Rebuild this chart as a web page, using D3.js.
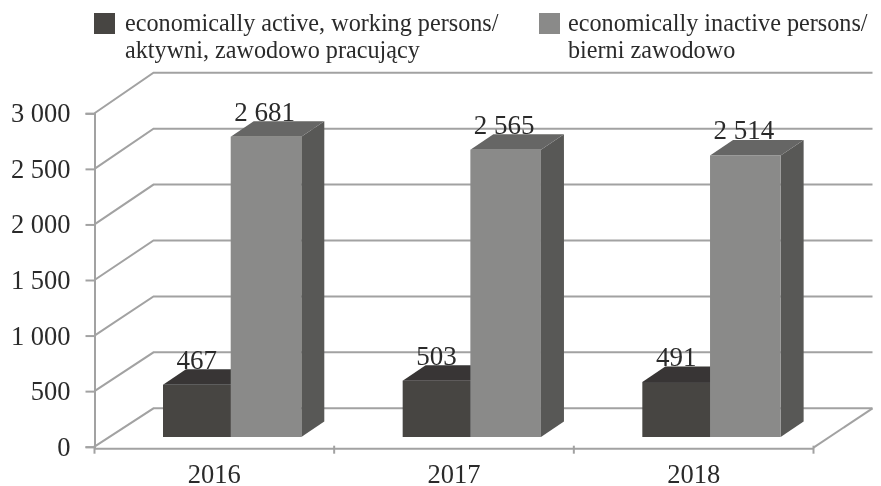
<!DOCTYPE html>
<html>
<head>
<meta charset="utf-8">
<script src="https://cdn.jsdelivr.net/npm/d3@7/dist/d3.min.js"></script>
<style>
  html, body { margin: 0; padding: 0; background: #fff; }
  text { font-family: "Liberation Serif", serif; fill: #2b2b2b; }
</style>
</head>
<body>
<div id="wrapper"></div>
<script>
const years = ["2016", "2017", "2018"];
const activeValues = [467, 503, 491];
const inactiveValues = [2681, 2565, 2514];
const yTicks = [0, 500, 1000, 1500, 2000, 2500, 3000];
const seriesNames = ["active", "inactive"];
const legendLines = [
  ["economically active, working persons/", "aktywni, zawodowo pracujący"],
  ["economically inactive persons/", "bierni zawodowo"]
];

const dimensions = { width: 881, height: 486 };
const gridColor = "#a2a2a2";
const wallDx = 59;
const barDepth = { dx: 23, dy: -15.5 };
const barWidth = 70.6;
const colors = {
  active: { front: "#464442", top: "#373634", side: "#3f3e3c" },
  inactive: { front: "#8a8a89", top: "#666665", side: "#595957" }
};

const numberFormat = d3.formatLocale({
  decimal: ".", thousands: " ", grouping: [3], currency: ["", ""]
}).format(",");

const wrapper = d3.select("#wrapper").append("svg")
  .attr("width", dimensions.width)
  .attr("height", dimensions.height)
  .style("display", "block");

wrapper.append("defs").append("filter")
  .attr("id", "soft")
  .append("feGaussianBlur").attr("stdDeviation", 0.45);

const bounds = wrapper.append("g").attr("filter", "url(#soft)");

const xScale = d3.scaleBand().domain(years).range([94.5, 813.5]);
const yScale = d3.scaleLinear().domain([0, 3000]).range([446.7, 113.3]);
// the back wall and the bars are each a little off from the front axis
const wallScale = d3.scaleLinear().domain([0, 3000]).range([408.3, 72.7]);
const barScale = d3.scaleLinear().domain([0, 3000]).range([437, 101]);
// light bars overlap the dark ones, so the step is narrower than a bar
const seriesScale = d3.scaleBand().domain(seriesNames)
  .range([68.5, 68.5 + 135.4]);

// back wall grid and side wall diagonals
const grid = bounds.append("g")
  .attr("stroke", gridColor).attr("stroke-width", 2).attr("fill", "none");
grid.selectAll("path.wall")
  .data(yTicks)
  .join("path")
  .attr("class", "wall")
  .attr("d", d => {
    const x0 = xScale.range()[0], x1 = xScale.range()[1];
    return `M${x0},${yScale(d)}L${x0 + wallDx},${wallScale(d)}H${x1 + wallDx}`;
  });
grid.append("path")
  .attr("d", () => {
    const x1 = xScale.range()[1];
    return `M${x1},${yScale(0) + 1}L${x1 + wallDx},${wallScale(0)}`;
  });

// axes
const yAxis = bounds.append("g")
  .attr("transform", `translate(${xScale.range()[0]},0)`)
  .call(d3.axisLeft(yScale).tickValues(yTicks).tickFormat(numberFormat).tickSize(9).tickPadding(15));
const xAxis = bounds.append("g")
  .attr("transform", `translate(0,${yScale(0) + 2})`)
  .call(d3.axisBottom(xScale).tickSize(0).tickPadding(15));
[yAxis, xAxis].forEach(axis => {
  axis.attr("font-family", null);
  axis.selectAll("path,line").attr("stroke", gridColor).attr("stroke-width", 2);
  axis.selectAll("text").attr("fill", "#2b2b2b").style("font-size", "26.5px");
});
xAxis.selectAll("path").attr("d", `M${xScale.range()[0]},0H${xScale.range()[1]}`);
xAxis.selectAll("line.edge")
  .data([xScale.range()[0], ...years.map(y => xScale(y) + xScale.bandwidth())])
  .join("line")
  .attr("class", "edge")
  .attr("x1", d => d).attr("x2", d => d)
  .attr("y1", -3).attr("y2", 5)
  .attr("stroke", gridColor).attr("stroke-width", 2);

// flatten values so dark bars are drawn before the light ones
const bars = seriesNames.flatMap((name, s) =>
  years.map((year, i) => ({
    name, year,
    value: (s === 0 ? activeValues : inactiveValues)[i]
  }))
);

const barX = d => xScale(d.year) + seriesScale(d.name);
const barTop = d => barScale(d.value);
const barBottom = barScale(0);

// labels sit under the bars, the light bars clip them a little
bounds.append("g").selectAll("text")
  .data(bars)
  .join("text")
  .attr("x", d => barX(d) + barWidth / 2 - 1.5)
  .attr("y", d => barTop(d) + barDepth.dy - 0.5)
  .attr("text-anchor", "middle")
  .style("font-size", "27px")
  .text(d => numberFormat(d.value));

const barGroups = bounds.append("g").selectAll("g")
  .data(bars)
  .join("g");
barGroups.append("path")
  .attr("fill", d => colors[d.name].side)
  .attr("d", d => {
    const x = barX(d) + barWidth;
    return `M${x},${barTop(d)}l${barDepth.dx},${barDepth.dy}V${barBottom + barDepth.dy}l${-barDepth.dx},${-barDepth.dy}Z`;
  });
barGroups.append("path")
  .attr("fill", d => colors[d.name].top)
  .attr("d", d => `M${barX(d)},${barTop(d)}l${barDepth.dx},${barDepth.dy}h${barWidth}l${-barDepth.dx},${-barDepth.dy}Z`);
barGroups.append("rect")
  .attr("fill", d => colors[d.name].front)
  .attr("x", barX)
  .attr("y", barTop)
  .attr("width", barWidth)
  .attr("height", d => barBottom - barTop(d));

// legend
const legendX = d3.scaleOrdinal().domain(seriesNames).range([94, 539]);
const legendTextX = d3.scaleOrdinal().domain(seriesNames).range([125, 568]);
const legend = bounds.append("g").selectAll("g")
  .data(seriesNames)
  .join("g");
legend.append("rect")
  .attr("x", d => legendX(d))
  .attr("y", 13).attr("width", 21).attr("height", 21)
  .attr("fill", d => colors[d].front);
legend.each(function(name, s) {
  d3.select(this).selectAll("text")
    .data(legendLines[s])
    .join("text")
    .attr("x", legendTextX(name))
    .attr("y", (d, i) => 31 + i * 27)
    .style("font-size", "24.2px")
    .text(d => d);
});
</script>
</body>
</html>
